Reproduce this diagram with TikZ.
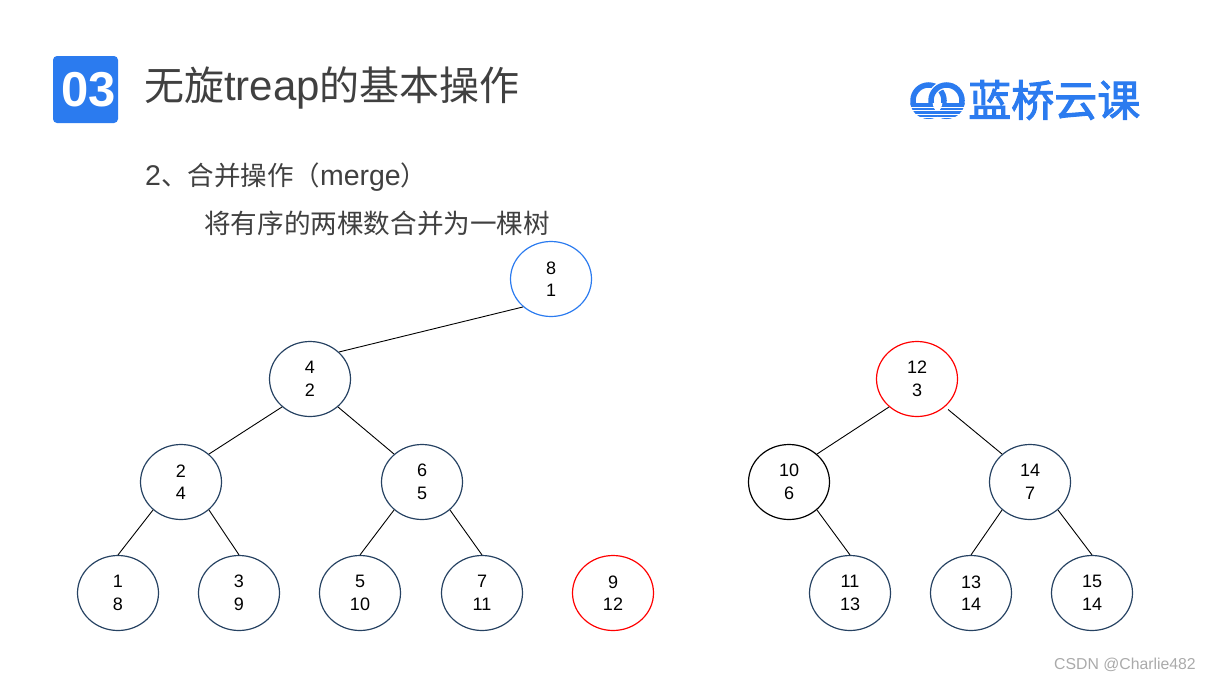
\documentclass[tikz,border=0pt]{standalone}
\usepackage{fontspec}
\setmainfont{Liberation Sans}
\newfontfamily\cjk{Noto Sans CJK SC}
\newfontfamily\cjkbrand[FakeBold=2.4]{Noto Sans CJK SC}
\usetikzlibrary{positioning,shapes.geometric}
\usepackage{xcolor}
\definecolor{accent}{RGB}{43,123,239}
\definecolor{darkline}{RGB}{38,66,98}
\definecolor{softtext}{RGB}{64,64,64}
\definecolor{softmark}{RGB}{170,170,170}

\begin{document}
\begin{tikzpicture}[
    x=1pt, y=-1pt,
    on grid,
    treenode/.style={draw=darkline, ellipse, line width=1.2pt, minimum width=81pt, minimum height=75pt, inner sep=0pt, align=center, font=\fontsize{18}{22.5}\selectfont},
    bluenode/.style={treenode, draw=accent},
    rednode/.style={treenode, draw=red},
    blacknode/.style={treenode, draw=black},
    link/.style={draw=black, line width=0.9pt},
    heading/.style={anchor=west, inner sep=0pt, text=softtext}
  ]
    \useasboundingbox (0,0) rectangle (1209,680);

    % header
    \node[fill=accent, rounded corners=4pt, minimum width=65pt, minimum height=67pt, inner sep=0pt, text=white, font=\fontsize{49}{49}\selectfont\bfseries] (badge) at (85.5,89.5) {\hspace*{6pt}03};
    \node[heading, font=\fontsize{42}{42}\selectfont] (title) at (144,88) {{\fontsize{40}{40}\selectfont\cjk 无旋}treap{\fontsize{40}{40}\selectfont\cjk 的基本操作}};
    \node[heading, font=\fontsize{28.5}{28.5}\selectfont] (sub) at (145,177) {2{\fontsize{26.5}{26}\selectfont\cjk 、合并操作（}merge{\fontsize{26.5}{26}\selectfont\cjk ）}};
    \node[heading, font=\fontsize{26.6}{26.6}\selectfont] (desc) at (204,223) {\cjk 将有序的两棵数合并为一棵树};

    % logo
    \draw[accent, line width=5.5pt] (928.5,100.5) circle[radius=15.5];
    \draw[white, line width=8pt] (946.5,100.5) circle[radius=15.5];
    \draw[accent, line width=5.5pt] (946.5,100.5) circle[radius=15.5];
    \begin{scope}
      \clip (905,103.5) rectangle (970,122);
      \fill[accent] (928.5,100.5) circle[radius=18.5];
      \fill[accent] (946.5,100.5) circle[radius=18.5];
      \fill[white] (937.5,101) ellipse[x radius=5, y radius=10];
      \foreach \yline in {107,110.5,114,117.2}
        \draw[white, line width=1pt] (905,\yline) -- (970,\yline);
    \end{scope}
    \node[anchor=west, inner sep=0pt, text=accent, font=\fontsize{43}{43}\selectfont\cjkbrand] (brand) at (968,100) {蓝桥云课};

    % left tree
    \node[bluenode] (n8) at (551,279) {8\\1};
    \node[treenode, below left=100pt and 241pt of n8] (n4) {4\\2};
    \node[treenode, below left=103pt and 129pt of n4] (n2) {2\\4};
    \node[treenode, below right=103pt and 112pt of n4] (n6) {6\\5};
    \node[treenode, below left=111pt and 63pt of n2] (n1) {1\\8};
    \node[treenode, below right=111pt and 58pt of n2] (n3) {3\\9};
    \node[treenode, below left=111pt and 62pt of n6] (n5) {5\\10};
    \node[treenode, below right=111pt and 60pt of n6] (n7) {7\\11};
    \node[rednode, right=131pt of n7] (n9) {9\\12};

    % right tree
    \node[rednode] (n12) at (917,379) {12\\3};
    \node[blacknode, below left=103pt and 128pt of n12] (n10) {10\\6};
    \node[treenode, below right=103pt and 113pt of n12] (n14) {14\\7};
    \node[treenode, below right=111pt and 61pt of n10] (n11) {11\\13};
    \node[treenode, below left=111pt and 59pt of n14] (n13) {13\\14};
    \node[treenode, below right=111pt and 62pt of n14] (n15) {15\\14};

    \draw[link] (n8.225) -- (n4.43);
    \draw[link] (n4.225) -- (n2.45);
    \draw[link] (n4.315) -- (n6.135);
    \draw[link] (n2.225) -- (n1.90);
    \draw[link] (n2.315) -- (n3.90);
    \draw[link] (n6.225) -- (n5.90);
    \draw[link] (n6.315) -- (n7.90);
    \draw[link] (n12.225) -- (n10.45);
    \draw[link, shorten <=4pt] (n12.315) -- (n14.135);
    \draw[link] (n10.315) -- (n11.90);
    \draw[link] (n14.225) -- (n13.90);
    \draw[link] (n14.315) -- (n15.90);

    \node[anchor=east, inner sep=0pt, text=softmark, font=\fontsize{15.8}{15.8}\selectfont] (mark) at (1196,665) {CSDN @Charlie482};
  \end{tikzpicture}
\end{document}
